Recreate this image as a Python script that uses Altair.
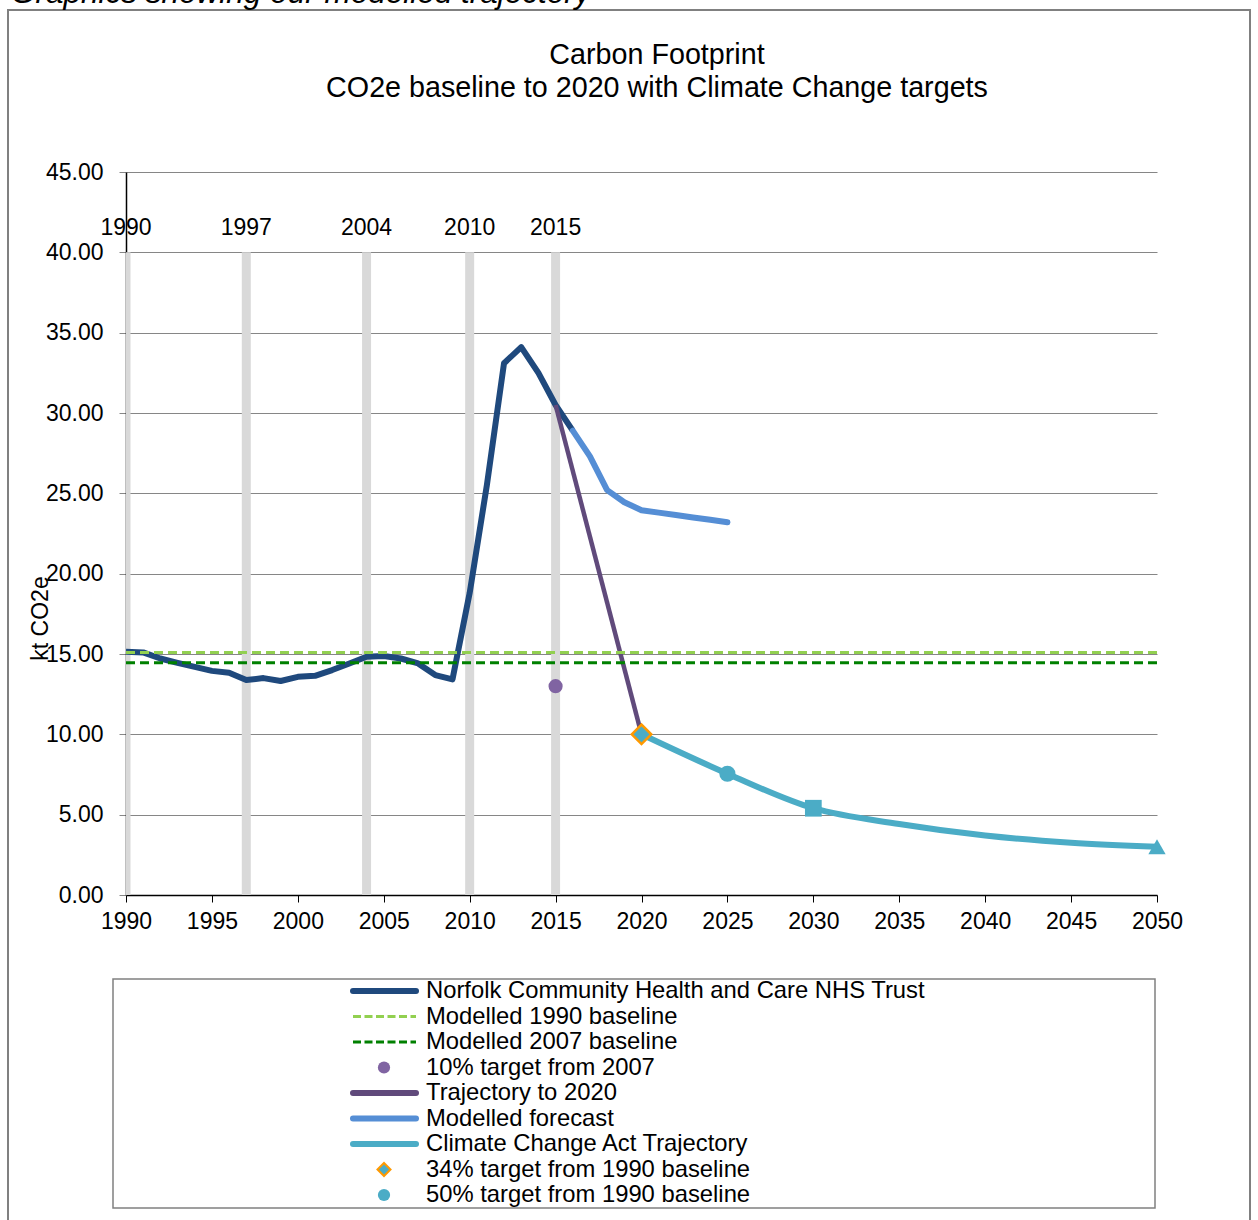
import altair as alt
import pandas as pd

FONT = "Liberation Sans"

# ---------------- data ----------------
TITLE_LINES = ["Carbon Footprint", "CO2e baseline to 2020 with Climate Change targets"]
CAPTION = "Graphics showing our modelled trajectory"
Y_TITLE = "kt CO2e"

norfolk_years = list(range(1990, 2017))
norfolk_values = [15.14, 15.10, 14.72, 14.45, 14.20, 13.95, 13.83, 13.38, 13.50, 13.32,
                  13.58, 13.64, 14.00, 14.41, 14.83, 14.87, 14.72, 14.41, 13.69, 13.42,
                  18.80, 25.50, 33.10, 34.10, 32.50, 30.50, 28.90]

forecast_years = list(range(2016, 2026))
forecast_values = [28.90, 27.30, 25.20, 24.45, 23.95, 23.80, 23.65, 23.50, 23.35, 23.20]

trajectory_years = [2015, 2020]
trajectory_values = [30.50, 10.00]

climate_years = [2020, 2025, 2030, 2035, 2040, 2045, 2050]
climate_values = [10.00, 7.55, 5.40, 4.42, 3.70, 3.25, 3.00]

baseline_years = [1990, 2050]
baseline_1990 = 15.10
baseline_2007 = 14.45

target_2007_year = [2015]
target_2007_value = [13.00]
target34_year = [2020]
target34_value = [10.00]
target50_year = [2025]
target50_value = [7.55]
milestone2030_year = [2030]
milestone2030_value = [5.40]
end2050_year = [2050]
end2050_value = [3.00]

marker_years = [1990, 1997, 2004, 2010, 2015]
marker_top = 40.0
marker_label_value = 41.5

x_ticks = list(range(1990, 2051, 5))
y_ticks = list(range(0, 46, 5))

legend_labels = [
    "Norfolk Community Health and Care NHS Trust",
    "Modelled 1990 baseline",
    "Modelled 2007 baseline",
    "10% target from 2007",
    "Trajectory to 2020",
    "Modelled forecast",
    "Climate Change Act Trajectory",
    "34% target from 1990 baseline",
    "50% target from 1990 baseline",
]

# ---------------- styles ----------------
C_NORFOLK = "#1F497D"
C_LGREEN = "#92D050"
C_DGREEN = "#008000"
C_TARGET = "#8064A2"
C_TRAJ = "#604A7B"
C_FORE = "#558ED5"
C_CCA = "#4BACC6"
C_ORANGE = "#FF9900"
C_BAR = "#D9D9D9"
C_GRID = "#868686"


def frame(years, values):
    return pd.DataFrame({"year": years, "value": values})


xscale = alt.Scale(domain=[1990, 2050], nice=False, zero=False)
yscale = alt.Scale(domain=[0, 45], nice=False)

xaxis = alt.Axis(values=x_ticks, format="d", grid=False, title="",
                 labelFont=FONT, labelFontSize=23, labelColor="black",
                 tickColor="black", tickSize=7, domainColor="black", domainWidth=1.5,
                 labelPadding=8, labelFlush=False, labelOverlap=False)
yaxis = alt.Axis(values=y_ticks, format=".2f", grid=True, gridColor=C_GRID, gridWidth=1.2,
                 title=Y_TITLE, titleFont=FONT, titleFontSize=23, titleFontWeight="normal",
                 titleColor="black", titleAngle=270, titleX=-86, titleY=446,
                 titleAlign="center", titleBaseline="middle",
                 labelFont=FONT, labelFontSize=23, labelColor="black",
                 tickColor=C_GRID, tickSize=7, domainColor="black", domainWidth=1.5,
                 labelPadding=16, labelFlush=False, labelOverlap=False)

X = alt.X("year:Q", scale=xscale, axis=xaxis)
Y = alt.Y("value:Q", scale=yscale, axis=yaxis)

bars_df = pd.DataFrame({"year": marker_years, "value": [0.0] * len(marker_years),
                        "value2": [marker_top] * len(marker_years)})
bars = alt.Chart(bars_df).mark_rule(color=C_BAR, strokeWidth=9, clip=True).encode(
    x=X, y=Y, y2="value2:Q")

lab_df = pd.DataFrame({"year": marker_years, "value": [marker_label_value] * len(marker_years),
                       "label": [str(y) for y in marker_years]})
bar_labels = alt.Chart(lab_df).mark_text(font=FONT, fontSize=23, color="black",
                                          align="center", baseline="middle").encode(
    x=X, y=Y, text="label:N")

norfolk = alt.Chart(frame(norfolk_years, norfolk_values)).mark_line(
    color=C_NORFOLK, strokeWidth=6, strokeJoin="round").encode(x=X, y=Y)
trajectory = alt.Chart(frame(trajectory_years, trajectory_values)).mark_line(
    color=C_TRAJ, strokeWidth=4.5).encode(x=X, y=Y)
forecast = alt.Chart(frame(forecast_years, forecast_values)).mark_line(
    color=C_FORE, strokeWidth=6, strokeJoin="round", strokeCap="round").encode(x=X, y=Y)
climate = alt.Chart(frame(climate_years, climate_values)).mark_line(
    color=C_CCA, strokeWidth=6, interpolate="monotone").encode(x=X, y=Y)

base90 = alt.Chart(frame(baseline_years, [baseline_1990] * 2)).mark_line(
    color=C_LGREEN, strokeWidth=3, strokeDash=[9, 5]).encode(x=X, y=Y)
base07 = alt.Chart(frame(baseline_years, [baseline_2007] * 2)).mark_line(
    color=C_DGREEN, strokeWidth=3, strokeDash=[9, 5]).encode(x=X, y=Y)

pt_target07 = alt.Chart(frame(target_2007_year, target_2007_value)).mark_point(
    shape="circle", filled=True, color=C_TARGET, size=200, opacity=1).encode(x=X, y=Y)
pt_34 = alt.Chart(frame(target34_year, target34_value)).mark_point(
    shape="diamond", filled=True, fill=C_CCA, stroke=C_ORANGE, strokeWidth=2.5,
    size=380, opacity=1).encode(x=X, y=Y)
pt_50 = alt.Chart(frame(target50_year, target50_value)).mark_point(
    shape="circle", filled=True, color=C_CCA, size=260, opacity=1).encode(x=X, y=Y)
pt_2030 = alt.Chart(frame(milestone2030_year, milestone2030_value)).mark_point(
    shape="square", filled=True, color=C_CCA, size=280, opacity=1).encode(x=X, y=Y)
pt_2050 = alt.Chart(frame(end2050_year, end2050_value)).mark_point(
    shape="triangle-up", filled=True, color=C_CCA, size=300, opacity=1).encode(x=X, y=Y)

blank = alt.Chart(pd.DataFrame({"k": [0]}))

# outer frame and captions
outer = blank.mark_rect(fillOpacity=0, stroke="#808080", strokeWidth=2).encode(
    x=alt.value(-118), x2=alt.value(1124), y=alt.value(-162), y2=alt.value(1100))
caption = blank.mark_text(font=FONT, fontSize=31.5, fontStyle="italic", color="black",
                          align="left", baseline="alphabetic").encode(
    x=alt.value(-115), y=alt.value(-169.5), text=alt.value(CAPTION))
title1 = blank.mark_text(font=FONT, fontSize=28.7, color="black", align="center",
                         baseline="middle").encode(
    x=alt.value(531), y=alt.value(-117), text=alt.value(TITLE_LINES[0]))
title2 = blank.mark_text(font=FONT, fontSize=28.7, color="black", align="center",
                         baseline="middle").encode(
    x=alt.value(531), y=alt.value(-84), text=alt.value(TITLE_LINES[1]))

# legend
legend_box = blank.mark_rect(fillOpacity=0, stroke="#808080", strokeWidth=1.5).encode(
    x=alt.value(-13), x2=alt.value(1029), y=alt.value(807), y2=alt.value(1036))

legend_styles = [
    ("line", C_NORFOLK, None, 6),
    ("line", C_LGREEN, [8, 3.5], 3),
    ("line", C_DGREEN, [8, 3.5], 3),
    ("circle", C_TARGET, None, 0),
    ("line", C_TRAJ, None, 6),
    ("line", C_FORE, None, 6),
    ("line", C_CCA, None, 6),
    ("diamond", C_CCA, None, 0),
    ("circle", C_CCA, None, 0),
]

legend_layers = [legend_box]
for i, (label, style) in enumerate(zip(legend_labels, legend_styles)):
    ly = 819 + 25.5 * i
    kind, col, dash, w = style
    if kind == "line":
        kw = dict(color=col, strokeWidth=w)
        if dash:
            kw["strokeDash"] = dash
        else:
            kw["strokeCap"] = "round"
        legend_layers.append(blank.mark_rule(**kw).encode(
            x=alt.value(227), x2=alt.value(290), y=alt.value(ly)))
    elif kind == "diamond":
        legend_layers.append(blank.mark_point(shape="diamond", filled=True, fill=col,
                                              stroke=C_ORANGE, strokeWidth=2, size=170,
                                              opacity=1).encode(
            x=alt.value(258), y=alt.value(ly)))
    else:
        legend_layers.append(blank.mark_point(shape="circle", filled=True, color=col,
                                              size=150, opacity=1).encode(
            x=alt.value(258), y=alt.value(ly)))
    legend_layers.append(blank.mark_text(font=FONT, fontSize=23.8, color="black",
                                         align="left", baseline="middle").encode(
        x=alt.value(300), y=alt.value(ly), text=alt.value(label)))

chart = alt.layer(
    bars, bar_labels, norfolk, trajectory, forecast, climate, base90, base07,
    pt_34, pt_50, pt_2030, pt_2050, pt_target07,
    outer, caption, title1, title2, *legend_layers
).properties(
    width=1031, height=723,
    autosize=alt.AutoSizeParams(type="none"),
    padding={"left": 126, "top": 172, "right": 101, "bottom": 325},
    background="white",
).configure(font=FONT).configure_view(strokeOpacity=0)

chart.save("out.html", embed_options={"renderer": "svg", "actions": False})
